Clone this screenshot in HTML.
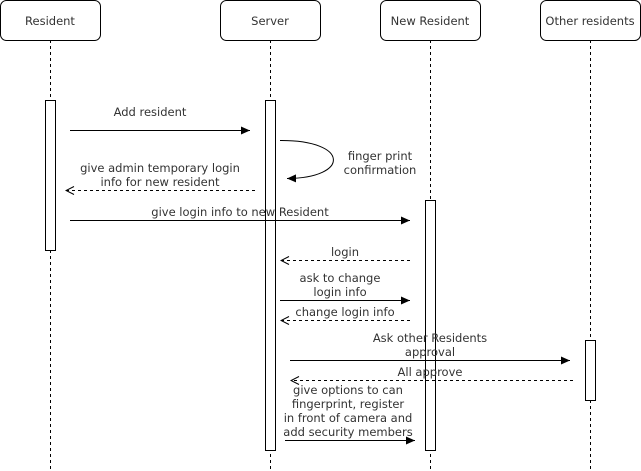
<!DOCTYPE html>
<html><head><style>html,body{margin:0;padding:0;background:#fff}svg{display:block}text{font-family:"DejaVu Sans","Liberation Sans",sans-serif;font-size:11.5px;fill:#333;text-anchor:middle}</style></head><body>
<svg width="641" height="471" viewBox="0 0 641 471">
<defs>
<marker id="f" markerWidth="10" markerHeight="10" refX="9" refY="5" orient="auto" markerUnits="userSpaceOnUse"><path d="M0,1 L9,5 L0,9 Z" fill="#000"/></marker>
<marker id="o" markerWidth="10" markerHeight="10" refX="9" refY="5" orient="auto" markerUnits="userSpaceOnUse"><path d="M1,1 L9,5 L1,9" fill="none" stroke="#000"/></marker>
</defs>
<g stroke="#000" stroke-dasharray="3,3" fill="none">
<line x1="50.5" y1="40" x2="50.5" y2="471"/><line x1="270.5" y1="40" x2="270.5" y2="471"/><line x1="430.5" y1="40" x2="430.5" y2="471"/><line x1="590.5" y1="40" x2="590.5" y2="471"/>
</g>
<g fill="#fff" stroke="#000">
<rect x="0.5" y="0.5" width="100" height="40" rx="6"/><rect x="220.5" y="0.5" width="100" height="40" rx="6"/><rect x="380.5" y="0.5" width="100" height="40" rx="6"/><rect x="540.5" y="0.5" width="100" height="40" rx="6"/>
<rect x="45.5" y="100.5" width="10" height="150"/><rect x="265.5" y="100.5" width="10" height="350"/><rect x="425.5" y="200.5" width="10" height="250"/><rect x="585.5" y="340.5" width="10" height="60"/>
</g>
<text x="50" y="25">Resident</text><text x="270" y="25">Server</text><text x="430" y="25">New Resident</text><text x="590" y="25">Other residents</text>
<g stroke="#000" fill="none">
<line x1="70" y1="130.5" x2="250" y2="130.5" marker-end="url(#f)"/>
<path d="M280,140.5 C350,140 350,178 287,178.5" marker-end="url(#f)"/>
<line x1="255" y1="190.5" x2="66" y2="190.5" stroke-dasharray="3,3" marker-end="url(#o)"/>
<line x1="70" y1="220.5" x2="410" y2="220.5" marker-end="url(#f)"/>
<line x1="410" y1="260.5" x2="281" y2="260.5" stroke-dasharray="3,3" marker-end="url(#o)"/>
<line x1="280" y1="300.5" x2="410" y2="300.5" marker-end="url(#f)"/>
<line x1="410" y1="320.5" x2="281" y2="320.5" stroke-dasharray="3,3" marker-end="url(#o)"/>
<line x1="290" y1="360.5" x2="570" y2="360.5" marker-end="url(#f)"/>
<line x1="573" y1="380.5" x2="291" y2="380.5" stroke-dasharray="3,3" marker-end="url(#o)"/>
<line x1="285" y1="440.5" x2="415" y2="440.5" marker-end="url(#f)"/>
</g>
<text x="150" y="116">Add resident</text>
<text x="380" y="160">finger print</text><text x="380" y="174">confirmation</text>
<text x="160" y="172">give admin temporary login</text><text x="160" y="186">info for new resident</text>
<text x="240" y="216">give login info to new Resident</text>
<text x="345" y="256">login</text>
<text x="340" y="282">ask to change</text><text x="340" y="296">login info</text>
<text x="345" y="316">change login info</text>
<text x="430" y="342">Ask other Residents</text><text x="430" y="356">approval</text>
<text x="430" y="376">All approve</text>
<text x="348" y="394">give options to can</text><text x="348" y="408">fingerprint, register</text><text x="348" y="422">in front of camera and</text><text x="348" y="436">add security members</text>
</svg>
</body></html>
